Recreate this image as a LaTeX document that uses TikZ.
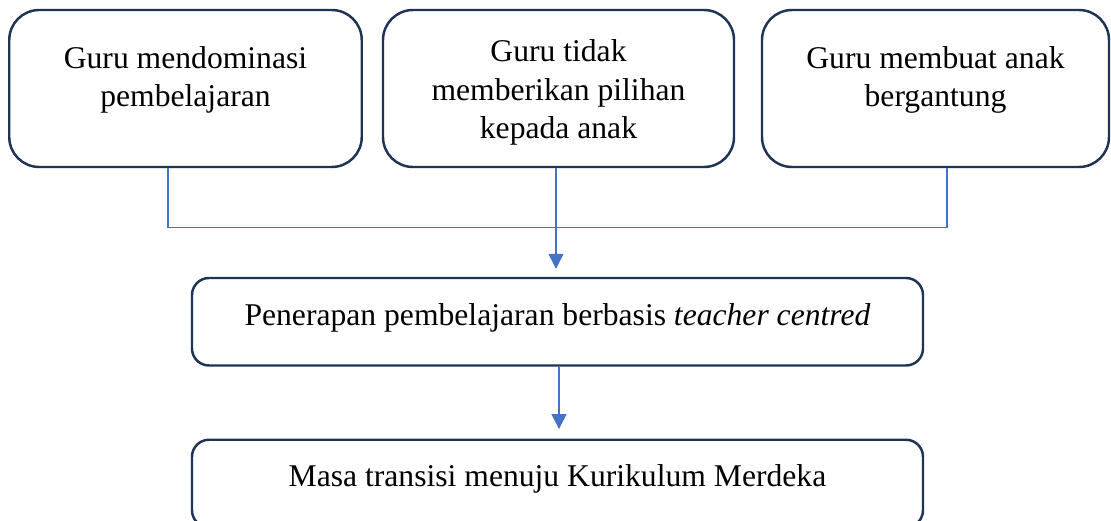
\documentclass[tikz,border=0pt]{standalone}
\usepackage{fontspec}
\setmainfont{Liberation Serif}
\usepackage{tikz}
\usetikzlibrary{arrows.meta}

\definecolor{boxline}{HTML}{1F3354}
\definecolor{linkblue}{HTML}{4472C4}

\begin{document}
\begin{tikzpicture}[
	box/.style={draw=boxline, line width=1.4pt, rounded corners=0.6cm, inner sep=0pt},
	wide/.style={box, rounded corners=0.34cm, minimum width=14.62cm, minimum height=1.75cm},
	txt/.style={align=center, font=\fontsize{18}{22}\selectfont, inner sep=0pt},
	link/.style={draw=linkblue, line width=0.6pt},
	arrow/.style={draw=linkblue, line width=0.85pt, -{Triangle[length=0.3cm, width=0.3cm]}}
]

	\clip (0, 0) rectangle (22.22, -10.42);

	\node[box, minimum width=7.05cm, minimum height=3.14cm] (g1) at (3.71, -1.77) {};
	\node[box, minimum width=7.02cm, minimum height=3.14cm] (g2) at (11.17, -1.77) {};
	\node[box, minimum width=6.94cm, minimum height=3.14cm] (g3) at (18.71, -1.77) {};
	\node[txt] (t1) at ([yshift=0.17cm]g1.center) {Guru mendominasi\\pembelajaran};
	\node[txt] (t2) at ([yshift=-0.08cm]g2.center) {Guru tidak\\memberikan pilihan\\kepada anak};
	\node[txt] (t3) at ([yshift=0.17cm]g3.center) {Guru membuat anak\\bergantung};

	\node[wide] (p) at (11.15, -6.435) {};
	\node[txt] (tp) at ([yshift=0.08cm]p.center) {Penerapan pembelajaran berbasis \textit{teacher centred}};
	\node[wide] (m) at (11.15, -9.67) {};
	\node[txt] (tm) at ([yshift=0.09cm]m.center) {Masa transisi menuju Kurikulum Merdeka};

	\draw[link] ([xshift=-0.35cm]g1.south) -- ++(0, -1.19) -| ([xshift=0.23cm]g3.south);
	\coordinate (a1) at ([xshift=-0.05cm]g2.south |- p.north);
	\draw[arrow] ([xshift=-0.05cm]g2.south) -- ([yshift=0.16cm]a1);
	\coordinate (a2) at ([xshift=0.03cm]p.south |- m.north);
	\draw[arrow] ([xshift=0.03cm]p.south) -- ([yshift=0.19cm]a2);

\end{tikzpicture}
\end{document}
